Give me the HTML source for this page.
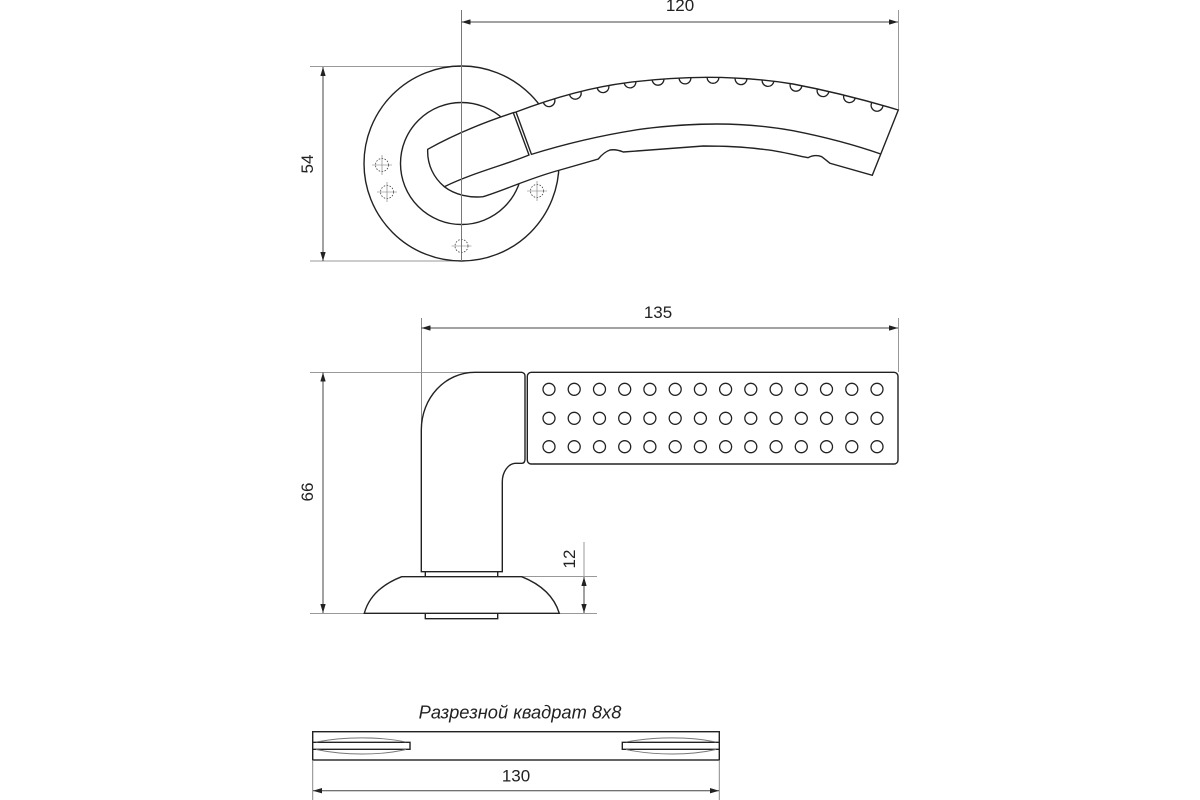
<!DOCTYPE html>
<html><head><meta charset="utf-8"><style>html,body{margin:0;padding:0;background:#fff}svg{display:block}text{font-family:"Liberation Sans",sans-serif;font-size:17px;fill:#222}</style></head>
<body>
<svg width="1200" height="800" viewBox="0 0 1200 800" xmlns="http://www.w3.org/2000/svg">
<defs>
<marker id="a" viewBox="0 0 10 6" refX="10" refY="3" markerWidth="9" markerHeight="5.4" orient="auto-start-reverse" markerUnits="userSpaceOnUse"><path d="M0,0L10,3L0,6z" fill="#222"/></marker>
<g id="h" fill="none" stroke="#444" stroke-width=".8"><circle r="6.5" stroke-dasharray="1.6 1.4"/><path d="M-10,0H10M0,-10V10" stroke-width=".6" stroke="#777"/></g>
<path id="d" d="M-5.9,-5V0A5.9,5.9 0 0 0 5.9,0V-5" fill="none" stroke="#222" stroke-width="1.3"/>
<clipPath id="lc"><path d="M427.7,149.3C427,165 434,178 444.3,186.7C455,195 470,198 483,196.7C505,190 530,178 560,170L598.3,159Q604,152 610,150Q616,149 623.3,152L703.3,146C720,146 740,146.5 760,149C775,150 790,154 808,157.7Q815,154 821.7,156.7Q826,160 830,163.3L872.3,175.3L898.3,110C865,100 830,91 793,84C765,79.5 740,77.3 707,77.3C680,77.5 655,79 627,82.7C585,88 545,101 516,112L513.3,112.7C485,122 455,134 427.7,149.3Z"/></clipPath>
</defs>
<!-- extension lines -->
<g fill="none" stroke="#999" stroke-width="1">
<path d="M310,66.5H461M310,261H461"/>
<path d="M898.5,10V110"/>
<path d="M421.5,318V430" stroke="#888"/>
<path d="M898.5,318V372"/>
<path d="M310,372.5H475M310,613.5H425"/>
<path d="M522,576.5H597M498,613.5H597M584,542V577"/>
</g>
<!-- front view -->
<g fill="none" stroke="#222" stroke-width="1.4">
<circle cx="461.5" cy="163.5" r="97.5"/>
<circle cx="461.5" cy="163.5" r="61"/>
<path fill="#fff" d="M427.7,149.3C427,165 434,178 444.3,186.7C455,195 470,198 483,196.7C505,190 530,178 560,170L598.3,159Q604,152 610,150Q616,149 623.3,152L703.3,146C720,146 740,146.5 760,149C775,150 790,154 808,157.7Q815,154 821.7,156.7Q826,160 830,163.3L872.3,175.3L898.3,110C865,100 830,91 793,84C765,79.5 740,77.3 707,77.3C680,77.5 655,79 627,82.7C585,88 545,101 516,112L513.3,112.7C485,122 455,134 427.7,149.3Z"/>
<path d="M513.3,112.7L529,155C505,165 475,172 444.3,186.7"/>
<path d="M516,112L531.5,154.5"/>
<path d="M531,154.5C555,147 590,137 640,129.3C665,126 690,124 716.7,124C745,124 770,126.5 793,130.7C825,137 855,145 880.7,154"/>
</g>
<g clip-path="url(#lc)">
<use href="#d" transform="translate(549,100.7) rotate(-17)"/>
<use href="#d" transform="translate(575.3,93.3) rotate(-14)"/>
<use href="#d" transform="translate(603,86.7) rotate(-10)"/>
<use href="#d" transform="translate(630,82) rotate(-7)"/>
<use href="#d" transform="translate(658,79.3) rotate(-4)"/>
<use href="#d" transform="translate(685,78) rotate(-2)"/>
<use href="#d" transform="translate(713,77.4) rotate(0)"/>
<use href="#d" transform="translate(741,78.7) rotate(3)"/>
<use href="#d" transform="translate(768,80.5) rotate(6)"/>
<use href="#d" transform="translate(796,85.3) rotate(11)"/>
<use href="#d" transform="translate(823,90.7) rotate(14)"/>
<use href="#d" transform="translate(849.5,96.7) rotate(16)"/>
<use href="#d" transform="translate(877,105.3) rotate(17)"/>
</g>
<path d="M461.5,10V261" stroke="#777" fill="none"/>
<use href="#h" x="382" y="165"/>
<use href="#h" x="387" y="192"/>
<use href="#h" x="537" y="191"/>
<use href="#h" x="461.5" y="246"/>
<!-- side view -->
<g fill="none" stroke="#222" stroke-width="1.4">
<path d="M421.3,571.7V430C421.3,398 445,372.3 475,372.3H521.7Q525,373 525,376V459Q525,463.3 521.7,463.3H515C508,464 502.3,472 502.3,481.7V571.7Z"/>
<path d="M425.3,571.7V576.7M497.7,571.7V576.7"/>
<path d="M364.3,613.3C369,596 383,584 401.7,576.7H521.7C540,584 554,596 559.3,613.3Z"/>
<path d="M425.3,613.3V618.7H497.7V613.3"/>
<rect x="527.3" y="372.3" width="370.7" height="91.7" rx="4"/>
<g stroke-width="1.3">
<circle cx="549" cy="389.3" r="6"/><circle cx="574.2" cy="389.3" r="6"/><circle cx="599.5" cy="389.3" r="6"/><circle cx="624.7" cy="389.3" r="6"/><circle cx="649.9" cy="389.3" r="6"/><circle cx="675.2" cy="389.3" r="6"/><circle cx="700.4" cy="389.3" r="6"/><circle cx="725.6" cy="389.3" r="6"/><circle cx="750.8" cy="389.3" r="6"/><circle cx="776.1" cy="389.3" r="6"/><circle cx="801.3" cy="389.3" r="6"/><circle cx="826.5" cy="389.3" r="6"/><circle cx="851.8" cy="389.3" r="6"/><circle cx="877" cy="389.3" r="6"/>
<circle cx="549" cy="418.3" r="6"/><circle cx="574.2" cy="418.3" r="6"/><circle cx="599.5" cy="418.3" r="6"/><circle cx="624.7" cy="418.3" r="6"/><circle cx="649.9" cy="418.3" r="6"/><circle cx="675.2" cy="418.3" r="6"/><circle cx="700.4" cy="418.3" r="6"/><circle cx="725.6" cy="418.3" r="6"/><circle cx="750.8" cy="418.3" r="6"/><circle cx="776.1" cy="418.3" r="6"/><circle cx="801.3" cy="418.3" r="6"/><circle cx="826.5" cy="418.3" r="6"/><circle cx="851.8" cy="418.3" r="6"/><circle cx="877" cy="418.3" r="6"/>
<circle cx="549" cy="446.7" r="6"/><circle cx="574.2" cy="446.7" r="6"/><circle cx="599.5" cy="446.7" r="6"/><circle cx="624.7" cy="446.7" r="6"/><circle cx="649.9" cy="446.7" r="6"/><circle cx="675.2" cy="446.7" r="6"/><circle cx="700.4" cy="446.7" r="6"/><circle cx="725.6" cy="446.7" r="6"/><circle cx="750.8" cy="446.7" r="6"/><circle cx="776.1" cy="446.7" r="6"/><circle cx="801.3" cy="446.7" r="6"/><circle cx="826.5" cy="446.7" r="6"/><circle cx="851.8" cy="446.7" r="6"/><circle cx="877" cy="446.7" r="6"/>
</g>
</g>
<!-- spindle -->
<g fill="none" stroke="#222" stroke-width="1.4">
<rect x="312.7" y="731.7" width="406.6" height="28.3"/>
<path d="M312.7,742.3H410V749.3H312.7M719.3,742.3H622.3V749.3H719.3"/>
<g stroke="#777" stroke-width=".9">
<path d="M316,742C345,736.5 380,736.5 406,742M316,749.5C345,755.5 380,755.5 406,749.5"/>
<path d="M626,742C655,736.5 690,736.5 716,742M626,749.5C655,755.5 690,755.5 716,749.5"/>
</g>
</g>
<path d="M312.7,760V800M719.3,760V800" stroke="#888" fill="none"/>
<!-- dimension lines -->
<g fill="none" stroke="#444" stroke-width="1">
<path d="M461.5,22H898" marker-start="url(#a)" marker-end="url(#a)"/>
<path d="M323,67V261" marker-start="url(#a)" marker-end="url(#a)"/>
<path d="M421.5,328H898" marker-start="url(#a)" marker-end="url(#a)"/>
<path d="M323,372.5V613" marker-start="url(#a)" marker-end="url(#a)"/>
<path d="M584,577V613" marker-start="url(#a)" marker-end="url(#a)"/>
<path d="M313,790.7H719" marker-start="url(#a)" marker-end="url(#a)"/>
</g>
<text x="680" y="11" text-anchor="middle">120</text>
<text x="658" y="318" text-anchor="middle">135</text>
<text x="516" y="781.5" text-anchor="middle">130</text>
<text transform="translate(313,164) rotate(-90)" text-anchor="middle">54</text>
<text transform="translate(313,492) rotate(-90)" text-anchor="middle">66</text>
<text transform="translate(575,559) rotate(-90)" text-anchor="middle">12</text>
<text x="520" y="718.5" text-anchor="middle" font-style="italic" style="font-size:18.3px">Разрезной квадрат 8x8</text>
</svg>
</body></html>
